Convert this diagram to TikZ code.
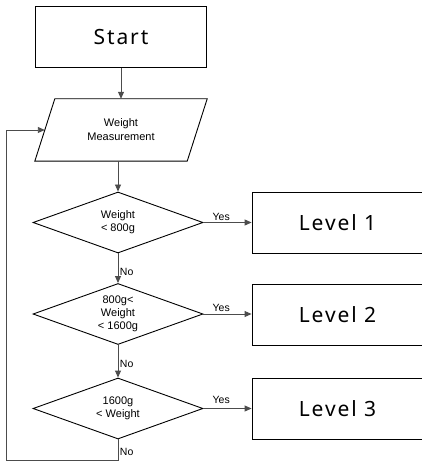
\documentclass[tikz,border=0pt]{standalone}
\usepackage{fontspec}
\setmainfont{Liberation Sans}
\newfontfamily\bigfont[LetterSpace=9]{Noto Sans}
\usetikzlibrary{shapes.geometric,arrows.meta}
\begin{document}
\begin{tikzpicture}[x=1pt,y=-1pt,
  box/.style={draw=black,line width=0.9pt,rectangle,minimum width=171pt,minimum height=61pt,inner sep=0pt,font=\bigfont\fontsize{21}{25}\selectfont},
  dec/.style={draw=black,line width=0.9pt,diamond,aspect=2.8,minimum width=170pt,minimum height=61pt,inner sep=0pt,align=center,font=\fontsize{11}{13}\selectfont},
  io/.style={rectangle,minimum width=152pt,minimum height=62pt,inner sep=0pt,align=center,font=\fontsize{11}{14}\selectfont},
  ioline/.style={draw=black,line width=0.9pt,line join=miter},
  conn/.style={draw=black!70,line width=0.9pt},
  arr/.style={conn,-{Triangle[length=7pt,width=6pt]}},
  lbl/.style={font=\fontsize{10.5}{12}\selectfont,inner sep=1.5pt}]
\useasboundingbox (0,0) rectangle (421,462);
\node[box] (start) at (121,37) {Start};
\node[io] (meas) at (121,130) {Weight\\Measurement};
\draw[ioline] ([xshift=10pt]meas.north west) -- ([xshift=10pt]meas.north east)
  -- ([xshift=-10pt]meas.south east) -- ([xshift=-10pt]meas.south west) -- cycle;
\node[dec] (d1) at (118,222.5) {Weight\\< 800g};
\node[dec] (d2) at (118,314) {800g<\\Weight\\< 1600g};
\node[dec] (d3) at (118,408.5) {1600g\\< Weight};
\node[box] (l1) at (337.5,222.5) {Level 1};
\node[box] (l2) at (337.5,314.5) {Level 2};
\node[box] (l3) at (337.5,409) {Level 3};
\draw[arr] (start) -- (meas);
\draw[arr] (d1.north |- meas.south) -- (d1.north);
\draw[arr] (d1) -- node[lbl,right,pos=0.62] {No} (d2);
\draw[arr] (d2) -- node[lbl,right,pos=0.58] {No} (d3);
\draw[arr] (d1.east) -- node[lbl,above,pos=0.37] {Yes} (l1.west |- d1.east);
\draw[arr] (d2.east) -- node[lbl,above,pos=0.37] {Yes} (l2.west |- d2.east);
\draw[arr] (d3.east) -- node[lbl,above,pos=0.37,yshift=3pt] {Yes} (l3.west |- d3.east);
\coordinate (lb) at (6,460);
\coordinate (lt) at (6,130);
\draw[arr] (d3.south) |- node[lbl,right,pos=0.3] {No} (lb) -- (lt) -- (meas.west);
\end{tikzpicture}
\end{document}
